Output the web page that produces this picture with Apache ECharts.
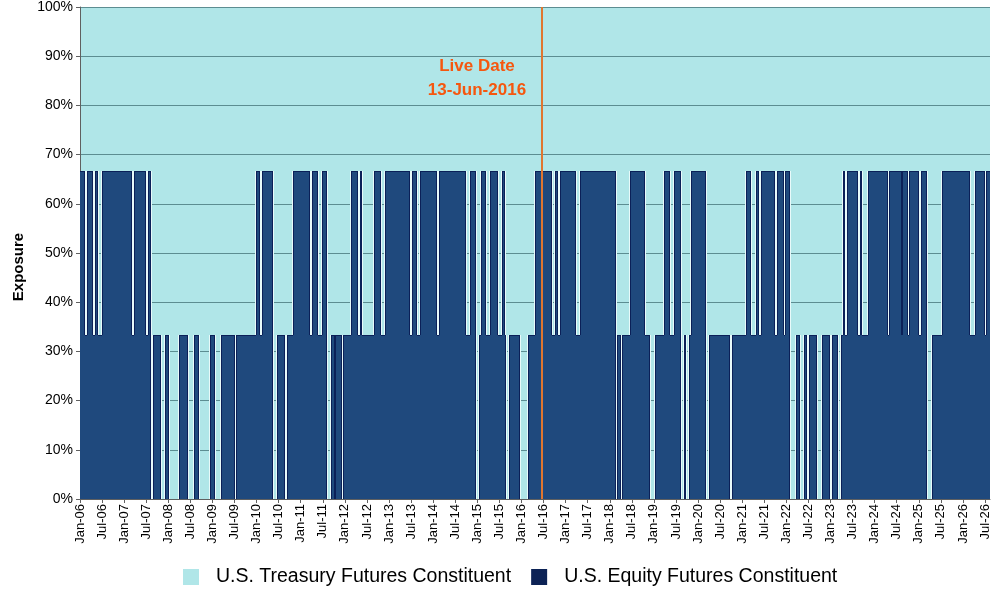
<!DOCTYPE html>
<html>
<head>
<meta charset="utf-8">
<title>Exposure</title>
<style>
    html, body { margin: 0; padding: 0; background: #fff; }
    #main { width: 1000px; height: 600px; }
</style>
</head>
<body>
<div id="main"></div>
<script src="https://cdn.jsdelivr.net/npm/echarts@6.0.0/dist/echarts.min.js"></script>
<script type="text/javascript">
// x position is counted in months since Jan-06 (0 = Jan-06, 246 = Jul-26)
var tickLabels = ['Jan-06','Jul-06','Jan-07','Jul-07','Jan-08','Jul-08','Jan-09','Jul-09',
    'Jan-10','Jul-10','Jan-11','Jul-11','Jan-12','Jul-12','Jan-13','Jul-13','Jan-14','Jul-14',
    'Jan-15','Jul-15','Jan-16','Jul-16','Jan-17','Jul-17','Jan-18','Jul-18','Jan-19','Jul-19',
    'Jan-20','Jul-20','Jan-21','Jul-21','Jan-22','Jul-22','Jan-23','Jul-23','Jan-24','Jul-24',
    'Jan-25','Jul-25','Jan-26','Jul-26'];
var tickMonths = [0,6,12,18,24,30,36,42,48,54,60,66,72,78,84,90,96,102,108,114,120,126,
    132,138,144,150,156,162,168,174,180,186,192,198,204,210,216,222,228,234,240,246];

// month at which each allocation period starts
var periodStart = [
    0.00, 1.36, 1.80, 3.43, 4.16, 4.98, 6.07, 14.15, 14.77, 17.95,
    18.39, 19.31, 19.94, 22.03, 23.20, 24.29, 27.01, 29.46, 31.09, 32.45,
    35.45, 36.72, 38.44, 42.17, 42.44, 47.88, 49.05, 49.51, 52.39, 53.48,
    55.77, 56.20, 57.83, 62.65, 63.00, 64.74, 65.91, 67.19, 68.28, 69.18,
    69.45, 71.16, 71.44, 73.80, 75.63, 75.98, 76.71, 79.79, 81.69, 82.86,
    89.58, 90.21, 91.68, 92.38, 97.12, 97.55, 105.01, 105.98, 107.73, 108.43,
    109.09, 110.45, 111.35, 113.60, 114.69, 115.43, 115.89, 116.51, 119.70, 121.76,
    123.59, 128.40, 129.03, 129.92, 130.47, 134.93, 135.83, 145.62, 145.97, 146.98,
    147.33, 149.43, 153.51, 155.06, 156.23, 158.68, 160.50, 161.40, 163.30, 163.49,
    164.12, 164.85, 165.48, 166.02, 170.10, 171.00, 176.82, 177.18, 180.99, 182.26,
    183.71, 184.60, 185.07, 188.88, 189.42, 191.24, 191.59, 192.95, 194.58, 195.67,
    196.76, 197.66, 198.12, 200.22, 201.66, 203.75, 204.38, 205.93, 206.83, 207.29,
    207.92, 208.46, 211.37, 212.00, 212.62, 214.09, 219.70, 219.97, 223.34, 223.50,
    225.14, 225.41, 228.05, 228.59, 230.14, 231.66, 234.22, 241.84, 243.28, 246.00,
    246.27
];
var lastMonth = 247.36;

// equity futures share (%) in each period
var equityShare = [
    66.67, 33.33, 66.67, 33.33, 66.67, 33.33, 66.67, 33.33, 66.67, 33.33,
    66.67, 0, 33.33, 0, 33.33, 0, 33.33, 0, 33.33, 0,
    33.33, 0, 33.33, 0, 33.33, 66.67, 33.33, 66.67, 0, 33.33,
    0, 33.33, 66.67, 33.33, 66.67, 33.33, 66.67, 0, 33.33, 0,
    33.33, 0, 33.33, 66.67, 33.33, 66.67, 33.33, 66.67, 33.33, 66.67,
    33.33, 66.67, 33.33, 66.67, 33.33, 66.67, 33.33, 66.67, 0, 33.33,
    66.67, 33.33, 66.67, 33.33, 66.67, 33.33, 0, 33.33, 0, 33.33,
    66.67, 33.33, 66.67, 33.33, 66.67, 33.33, 66.67, 0, 33.33, 0,
    33.33, 66.67, 33.33, 0, 33.33, 66.67, 33.33, 66.67, 33.33, 0,
    33.33, 0, 33.33, 66.67, 0, 33.33, 0, 33.33, 66.67, 33.33,
    66.67, 33.33, 66.67, 33.33, 66.67, 33.33, 66.67, 0, 33.33, 0,
    33.33, 0, 33.33, 0, 33.33, 0, 33.33, 0, 33.33, 66.67,
    33.33, 66.67, 33.33, 66.67, 33.33, 66.67, 33.33, 66.67, 33.33, 66.67,
    33.33, 66.67, 33.33, 66.67, 0, 33.33, 66.67, 33.33, 66.67, 33.33,
    66.67
];

var liveMonth = 125.4;          // 13-Jun-2016
var liveLabelAt = [107.9, 85.4];

var names = ['U.S. Treasury Futures Constituent', 'U.S. Equity Futures Constituent'];
var fontName = "'Liberation Sans', Arial, sans-serif";
var cyan = '#b0e6e8', blue = '#1f497d', navy = '#0b2058';

// one item per period: [start, end, share, next share]
var equityData = [], treasuryData = [];
for (var i = 0; i < periodStart.length; i++) {
    var last = i === periodStart.length - 1;
    var end = last ? lastMonth : periodStart[i + 1];
    var next = last ? equityShare[i] : equityShare[i + 1];
    equityData.push([periodStart[i], end, equityShare[i], next]);
    treasuryData.push([periodStart[i], end, +(100 - equityShare[i]).toFixed(2)]);
}

function renderTreasury(params, api) {
    var p0 = api.coord([api.value(0), 0]);
    var p1 = api.coord([api.value(1), api.value(2)]);
    var x0 = Math.round(p0[0]), x1 = Math.round(p1[0]);
    if (x1 <= x0 || api.value(2) <= 0) return null;
    return {
        type: 'rect',
        shape: { x: x0, y: p0[1], width: x1 - x0, height: Math.round(p1[1]) - p0[1] },
        style: { fill: cyan }
    };
}

function renderEquity(params, api) {
    var share = api.value(2), next = api.value(3);
    var base = api.coord([api.value(0), 0]);
    var x0 = Math.round(base[0]);
    var x1 = Math.round(api.coord([api.value(1), 0])[0]);
    var yTop = Math.round(api.coord([api.value(0), share])[1]);
    var yNext = Math.round(api.coord([api.value(1), next])[1]);
    var kids = [];
    if (share > 0 && x1 > x0) {
        kids.push({ type: 'rect', z2: 1,
            shape: { x: x0, y: yTop, width: x1 - x0, height: base[1] - yTop },
            style: { fill: blue } });
        kids.push({ type: 'line', z2: 3,
            shape: { x1: x0, y1: yTop + 0.5, x2: x1, y2: yTop + 0.5 },
            style: { stroke: navy, lineWidth: 1 } });
    }
    if (next !== share) {
        var up = next > share;
        var ya = Math.min(yTop, yNext), yb = Math.max(yTop, yNext);
        kids.push({ type: 'line', z2: 2,
            shape: { x1: x1 + (up ? -0.5 : 0.5), y1: ya, x2: x1 + (up ? -0.5 : 0.5), y2: yb },
            style: { stroke: '#e8fafa', lineWidth: 1 } });
        kids.push({ type: 'line', z2: 3,
            shape: { x1: x1 + (up ? 0.5 : -0.5), y1: ya, x2: x1 + (up ? 0.5 : -0.5), y2: yb },
            style: { stroke: navy, lineWidth: 1 } });
    }
    return { type: 'group', children: kids };
}

var chart = echarts.init(document.getElementById('main'));
var option = {
    animation: false,
    backgroundColor: '#fff',
    textStyle: { fontFamily: fontName },
    grid: { left: 80, right: 10, top: 7, bottom: 101 },
    legend: {
        bottom: 8,
        left: 178,
        icon: 'rect',
        itemWidth: 16,
        itemHeight: 16,
        itemGap: 20,
        textStyle: { fontSize: 19.5, color: '#000', fontFamily: fontName, padding: [0, 0, 0, 12] },
        data: [
            { name: names[0], itemStyle: { color: cyan } },
            { name: names[1], itemStyle: { color: '#0c2255' } }
        ]
    },
    xAxis: {
        type: 'value',
        min: 0,
        max: lastMonth,
        z: 4,
        splitLine: { show: false },
        axisLine: { show: true, lineStyle: { color: '#606060' } },
        axisTick: { show: true, length: 4, lineStyle: { color: '#606060' }, customValues: tickMonths },
        axisLabel: {
            rotate: 90,
            margin: 5,
            fontSize: 13,
            color: '#000',
            customValues: tickMonths,
            formatter: function (v) {
                var k = tickMonths.indexOf(Math.round(v));
                return k >= 0 ? tickLabels[k] : '';
            }
        }
    },
    yAxis: [
        {
            type: 'value',
            min: 0,
            max: 100,
            interval: 10,
            z: 2,
            name: 'Exposure',
            nameLocation: 'middle',
            nameRotate: 90,
            nameGap: 50,
            nameTextStyle: { fontSize: 15, fontWeight: 'bold', color: '#000', padding: [0, 28, 0, 0] },
            axisLine: { show: true, lineStyle: { color: '#606060' } },
            axisTick: { show: true, length: 4, lineStyle: { color: '#606060' } },
            axisLabel: { fontSize: 14, color: '#000', margin: 7, formatter: '{value}%' },
            splitLine: { show: true, lineStyle: { color: '#5c8d91', width: 1 } }
        },
        {
            // treasury share, counted down from the top of the plot
            type: 'value',
            min: 0,
            max: 100,
            inverse: true,
            show: false,
            splitLine: { show: false }
        }
    ],
    series: [
        {
            name: names[0],
            type: 'custom',
            yAxisIndex: 1,
            z: 1,
            itemStyle: { color: cyan },
            encode: { x: [0, 1], y: 2 },
            renderItem: renderTreasury,
            data: treasuryData
        },
        {
            name: names[1],
            type: 'custom',
            z: 3,
            itemStyle: { color: '#0c2255' },
            encode: { x: [0, 1], y: 2 },
            renderItem: renderEquity,
            data: equityData,
            markLine: {
                silent: true,
                symbol: 'none',
                label: { show: false },
                lineStyle: { color: '#e0762f', width: 2, type: 'solid' },
                data: [{ xAxis: liveMonth }]
            },
            markPoint: {
                silent: true,
                symbolSize: 1,
                itemStyle: { color: 'rgba(0,0,0,0)' },
                label: {
                    show: true,
                    position: 'inside',
                    formatter: 'Live Date\n13-Jun-2016',
                    color: '#f5570f',
                    fontSize: 17,
                    fontWeight: 'bold',
                    lineHeight: 24,
                    align: 'center'
                },
                data: [{ coord: liveLabelAt }]
            }
        }
    ]
};
chart.setOption(option);
</script>
</body>
</html>
